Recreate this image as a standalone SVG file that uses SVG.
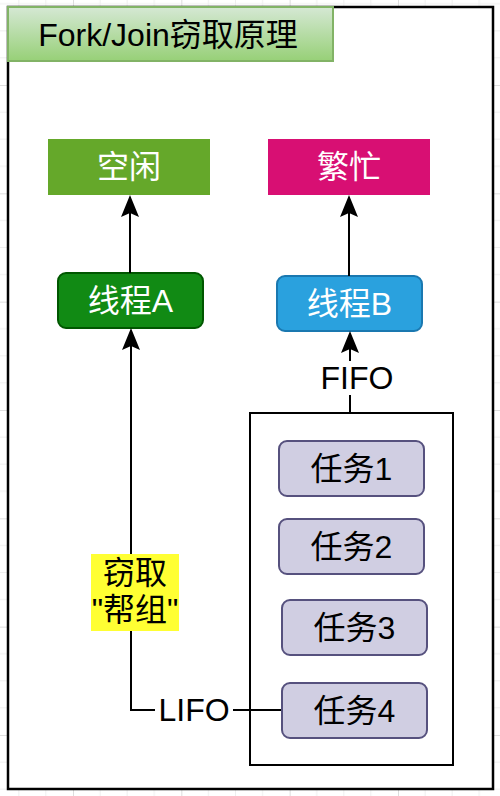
<svg xmlns="http://www.w3.org/2000/svg" width="500" height="796" viewBox="0 0 500 796">
  <style>
    .t { font-family: "Liberation Sans", "Noto Sans CJK SC", sans-serif; font-size: 32px; text-anchor: middle; dominant-baseline: central; }
    .w { fill: #ffffff; }
    .k { fill: #000000; }
    .edge { fill: none; stroke: #000000; stroke-width: 2; }
    .task { fill: #d0cee2; stroke: #56517e; stroke-width: 2; }
  </style>
  <defs>
    <pattern id="grid" patternUnits="userSpaceOnUse" x="-35.33" y="-23.33" width="108.33" height="108.33">
      <path d="M27.08 0V108.33M54.17 0V108.33M81.25 0V108.33M0 27.08H108.33M0 54.17H108.33M0 81.25H108.33" stroke="#eeeeee" stroke-width="1" fill="none"/>
      <path d="M0.5 0V108.33M0 0.5H108.33" stroke="#dddddd" stroke-width="1" fill="none"/>
    </pattern>
    <linearGradient id="titleGrad" x1="0" y1="0" x2="0" y2="1">
      <stop offset="0" stop-color="#d5e8d4"/>
      <stop offset="1" stop-color="#97d077"/>
    </linearGradient>
    <marker id="arr" viewBox="0 0 22 18" markerWidth="22" markerHeight="18" refX="4" refY="9" orient="auto" markerUnits="userSpaceOnUse">
      <path d="M0,0 L22,9 L0,18 L4,9 Z" fill="#000000"/>
    </marker>
  </defs>

  <rect x="0" y="0" width="500" height="796" fill="#ffffff"/>
  <rect x="0" y="0" width="500" height="796" fill="url(#grid)"/>

  <g id="frame">
    <rect x="8" y="7" width="485" height="782" fill="#ffffff" stroke="#000000" stroke-width="2.5"/>
  </g>

  <g id="title">
    <rect x="8" y="7" width="325" height="54" fill="url(#titleGrad)" stroke="#82b366" stroke-width="2"/>
    <text class="t k" x="168" y="35">Fork/Join窃取原理</text>
  </g>

  <g id="idle">
    <rect x="48" y="139" width="162" height="56" fill="#65a82a"/>
    <text class="t w" x="129" y="167">空闲</text>
  </g>

  <g id="busy">
    <rect x="268" y="139" width="162" height="56" fill="#d80f73"/>
    <text class="t w" x="349" y="167">繁忙</text>
  </g>

  <g id="threadA">
    <rect x="58" y="273" width="145" height="55" rx="8" fill="#118a14" stroke="#005700" stroke-width="2"/>
    <text class="t w" x="130.5" y="300.5">线程A</text>
  </g>

  <g id="threadB">
    <rect x="277" y="276" width="145" height="55" rx="8" fill="#2aa1de" stroke="#1a78b0" stroke-width="2"/>
    <text class="t w" x="349.5" y="303.5">线程B</text>
  </g>

  <g id="queue">
    <rect x="250" y="413" width="203" height="352" fill="#ffffff" stroke="#000000" stroke-width="2"/>
  </g>

  <g id="connectors">
    <path class="edge" d="M130 273V213" marker-end="url(#arr)"/>
    <path class="edge" d="M349 276V213" marker-end="url(#arr)"/>
    <path class="edge" d="M350 413V349" marker-end="url(#arr)"/>
    <path class="edge" d="M282 710H131V346" marker-end="url(#arr)"/>
    <rect x="319" y="361" width="76" height="34" fill="#ffffff"/>
    <text class="t k" x="357" y="378">FIFO</text>
    <rect x="155" y="693" width="78" height="34" fill="#ffffff"/>
    <text class="t k" x="194" y="710">LIFO</text>
    <rect x="91" y="554" width="88" height="77" fill="#ffff33"/>
    <text class="t k" x="135" y="573">窃取</text>
    <text class="t k" x="135" y="610">"帮组"</text>
  </g>

  <g id="task1">
    <rect class="task" x="279" y="441" width="145" height="55" rx="8"/>
    <text class="t k" x="351.5" y="468.5">任务1</text>
  </g>
  <g id="task2">
    <rect class="task" x="279" y="519" width="145" height="55" rx="8"/>
    <text class="t k" x="351.5" y="546.5">任务2</text>
  </g>
  <g id="task3">
    <rect class="task" x="282" y="600" width="145" height="55" rx="8"/>
    <text class="t k" x="354.5" y="627.5">任务3</text>
  </g>
  <g id="task4">
    <rect class="task" x="282" y="683" width="145" height="55" rx="8"/>
    <text class="t k" x="354.5" y="710.5">任务4</text>
  </g>
</svg>
